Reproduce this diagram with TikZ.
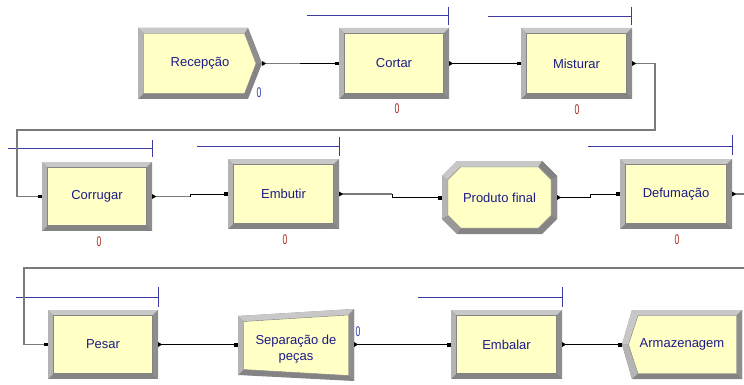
\documentclass[tikz,border=0pt]{standalone}
\usepackage{fontspec}
\usepackage{graphicx}
\setmainfont{Liberation Sans}
\usetikzlibrary{arrows.meta}

\definecolor{facefill}{HTML}{FFFFC6}
\definecolor{bvlight}{HTML}{C8C8C8}
\definecolor{bvmid}{HTML}{B4B4B4}
\definecolor{bvdark}{HTML}{8E8E8E}
\definecolor{bvdeep}{HTML}{848484}
\definecolor{labelblue}{HTML}{1C1C88}
\definecolor{queueblue}{HTML}{3C3CA0}
\definecolor{countred}{HTML}{A8281E}
\definecolor{countblue}{HTML}{2C3CA8}
\definecolor{linkgray}{HTML}{7A7A7A}

\newcommand{\bevw}{5.5}
\newcommand{\narrowzero}{\scalebox{0.62}[1]{0}}

\tikzset{
  modtext/.style={font=\fontsize{13}{15.5}\selectfont, text=labelblue, align=center, inner sep=0pt},
  face/.style={fill=facefill, draw=bvdeep, line width=0.4pt},
  queue/.style={draw=queueblue, line width=0.8pt},
  zerored/.style={font=\fontsize{14}{14}\selectfont, text=countred, inner sep=0pt},
  zeroblue/.style={font=\fontsize{14}{14}\selectfont, text=countblue, inner sep=0pt},
  gline/.style={draw=linkgray, line width=1.3pt},
  bline/.style={draw=black, line width=0.8pt},
  outtip/.tip={Triangle[reversed, length=4pt, width=4.5pt, color=black]},
  intip/.tip={Square[length=3.6pt, width=3.6pt, color=black]},
}

% rectangular process module with bevelled frame
\newcommand{\procbox}[6]{%
  \fill[bvdeep] (#2,#3) rectangle (#4,#5);
  \fill[bvlight] (#2,#3) -- (#4,#3) -- ({#4-\bevw},{#3+\bevw}) -- ({#2+\bevw},{#3+\bevw}) -- cycle;
  \fill[bvmid] (#2,#3) -- ({#2+\bevw},{#3+\bevw}) -- ({#2+\bevw},{#5-\bevw}) -- (#2,#5) -- cycle;
  \fill[bvdark] (#4,#3) -- (#4,#5) -- ({#4-\bevw},{#5-\bevw}) -- ({#4-\bevw},{#3+\bevw}) -- cycle;
  \draw[face] ({#2+\bevw},{#3+\bevw}) rectangle ({#4-\bevw},{#5-\bevw});
  \node[modtext, minimum width={(#4-#2)*1pt}, minimum height={(#5-#3)*1pt}] (#1) at ({(#2+#4)/2},{(#3+#5)/2}) {#6};
}

\begin{document}
\begin{tikzpicture}[x=1pt,y=-1pt]
\fill[white] (0,0) rectangle (744,385);
\useasboundingbox (0,0) rectangle (744,385);

% ---------- queue animation bars ----------
\draw[queue] (307,15) -- (448,15);  \draw[queue] (448,7) -- (448,25);
\draw[queue] (488,16) -- (631,16);  \draw[queue] (631,7) -- (631,25);
\draw[queue] (8,148) -- (152,148);  \draw[queue] (152,140) -- (152,157);
\draw[queue] (197,146) -- (339,146); \draw[queue] (339,137) -- (339,156);
\draw[queue] (588,146) -- (732,146); \draw[queue] (732,135) -- (732,155);
\draw[queue] (16,297) -- (158,297); \draw[queue] (158,287) -- (158,307);
\draw[queue] (418,297) -- (562,297); \draw[queue] (562,287) -- (562,307);

% ---------- Recepção (create) ----------
\fill[bvdeep] (138,28) -- (248,28) -- (262,63.5) -- (248,99) -- (138,99) -- cycle;
\fill[bvlight] (138,28) -- (248,28) -- (244.5,33.5) -- (143.5,33.5) -- cycle;
\fill[bvdark] (248,28) -- (262,63.5) -- (256,63.5) -- (244.5,33.5) -- cycle;
\fill[bvmid] (138,28) -- (143.5,33.5) -- (143.5,93.5) -- (138,99) -- cycle;
\draw[face] (143.5,33.5) -- (244.5,33.5) -- (256,63.5) -- (244.5,93.5) -- (143.5,93.5) -- cycle;
\node[modtext, minimum width=124pt, minimum height=71pt] (rec) at (200,63.5) {Recepção};

% ---------- plain process boxes ----------
\procbox{cortar}{339}{28}{449}{99}{Cortar}
\procbox{misturar}{521}{28}{632}{99}{Misturar}
\procbox{corrugar}{42}{162}{152}{231}{Corrugar}
\procbox{embutir}{228}{159}{339}{229}{Embutir}
\procbox{defumacao}{620}{159}{732}{229}{Defumação}
\procbox{pesar}{48}{310}{158}{379}{Pesar}
\procbox{embalar}{451}{310}{562}{379}{Embalar}

% ---------- Produto final (octagon) ----------
\fill[bvdeep] (457,161) -- (542,161) -- (557,176) -- (557,219) -- (542,234) -- (457,234) -- (442,219) -- (442,176) -- cycle;
\fill[bvlight] (457,161) -- (542,161) -- (538.5,167) -- (460.5,167) -- cycle;
\fill[bvlight] (442,176) -- (457,161) -- (460.5,167) -- (448,179.5) -- cycle;
\fill[bvmid] (442,176) -- (448,179.5) -- (448,215.5) -- (442,219) -- cycle;
\fill[bvmid!85!black] (442,219) -- (448,215.5) -- (460.5,228) -- (457,234) -- cycle;
\fill[bvdark!110!white] (542,161) -- (557,176) -- (551,179.5) -- (538.5,167) -- cycle;
\fill[bvdark] (557,176) -- (557,219) -- (551,215.5) -- (551,179.5) -- cycle;
\draw[face] (460.5,167) -- (538.5,167) -- (551,179.5) -- (551,215.5) -- (538.5,228) -- (460.5,228) -- (448,215.5) -- (448,179.5) -- cycle;
\node[modtext, minimum width=115pt, minimum height=73pt] (produto) at (499.5,197.5) {Produto final};

% ---------- Separação de peças (trapezoid) ----------
\fill[bvdeep] (238,316) -- (354,309) -- (354,381) -- (238,375) -- cycle;
\fill[bvlight] (238,316) -- (354,309) -- (348.5,315) -- (243.5,321.5) -- cycle;
\fill[bvmid] (238,316) -- (243.5,321.5) -- (243.5,369.5) -- (238,375) -- cycle;
\fill[bvdark] (354,309) -- (354,381) -- (348.5,375.5) -- (348.5,315) -- cycle;
\draw[face] (243.5,321.5) -- (348.5,315) -- (348.5,375.5) -- (243.5,369.5) -- cycle;
\node[inner sep=0pt, minimum width=116pt, minimum height=60pt] (separacao) at (296,344.5) {};
\node[modtext] (separacao-label) at (296,349) {Separação de\\peças};

% ---------- Armazenagem (dispose) ----------
\fill[bvdeep] (632,310) -- (742,310) -- (742,379) -- (632,379) -- (622,344.5) -- cycle;
\fill[bvlight] (632,310) -- (742,310) -- (736.5,315.5) -- (638,315.5) -- cycle;
\fill[bvlight] (622,344.5) -- (632,310) -- (638,315.5) -- (628.5,344.5) -- cycle;
\fill[bvmid] (622,344.5) -- (628.5,344.5) -- (638,373.5) -- (632,379) -- cycle;
\fill[bvdark] (742,310) -- (742,379) -- (736.5,373.5) -- (736.5,315.5) -- cycle;
\draw[face] (638,315.5) -- (736.5,315.5) -- (736.5,373.5) -- (638,373.5) -- (628.5,344.5) -- cycle;
\node[modtext, minimum width=120pt, minimum height=69pt] (armazenagem) at (682,344.5) {Armazenagem};

% ---------- counters ----------
\node[zeroblue] (n-rec) at (259,93) {\narrowzero};
\node[zerored] (n-cortar) at (397,109) {\narrowzero};
\node[zerored] (n-misturar) at (577,110) {\narrowzero};
\node[zerored] (n-corrugar) at (99,242) {\narrowzero};
\node[zerored] (n-embutir) at (285,240) {\narrowzero};
\node[zerored] (n-defumacao) at (677,240) {\narrowzero};
\node[zeroblue] (n-separacao) at (358,332) {\narrowzero};

% ---------- connectors ----------
\coordinate (k1) at (300,63.5);
\draw[gline, outtip-] (rec.east) -- (k1);
\draw[bline, -intip] (k1) -- (cortar.west);

\draw[bline, outtip-intip] (cortar.east) -- (misturar.west);

\draw[gline, outtip-intip] (misturar.east) -- (655,63.5) -- (655,130) -- (17,130) |- (corrugar.west);

\coordinate (k2) at (190,196.5);
\draw[gline, outtip-] (corrugar.east) -- (k2);
\draw[bline, -intip] (k2) |- (embutir.west);

\coordinate (k3) at (392,194);
\draw[gline, outtip-] (embutir.east) -- (k3);
\draw[bline, -intip] (k3) |- (produto.west);

\coordinate (k4) at (590,197.5);
\draw[bline, outtip-intip] (produto.east) -- (k4) |- (defumacao.west);

\draw[gline, outtip-intip] (defumacao.east) -- (762,194) -- (762,268) -- (24,268) |- (pesar.west);

\draw[bline, outtip-intip] (pesar.east) -- (separacao.west);
\draw[bline, outtip-intip] (separacao.east) -- (embalar.west);
\draw[bline, outtip-intip] (embalar.east) -- (armazenagem.west);
\end{tikzpicture}
\end{document}
